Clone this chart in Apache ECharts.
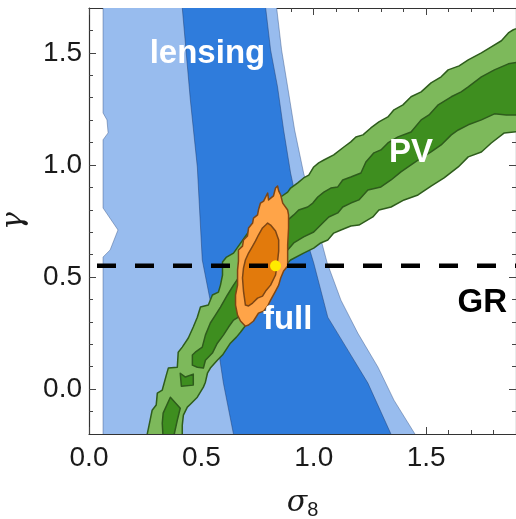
<!DOCTYPE html>
<html>
<head>
<meta charset="utf-8">
<script src="https://cdn.jsdelivr.net/npm/echarts@6/dist/echarts.min.js"></script>
<style>
  html, body { margin: 0; padding: 0; background: #ffffff; }
  #chart { width: 516px; height: 519px; }
</style>
</head>
<body>
<div id="chart"></div>
<script>
// Axis ticks (sigma_8 horizontally, gamma vertically)
const xMajor = [0, 0.5, 1.0, 1.5];
const xMinor = [0.1, 0.2, 0.3, 0.4, 0.6, 0.7, 0.8, 0.9, 1.1, 1.2, 1.3, 1.4, 1.6, 1.7, 1.8];
const yMajor = [0, 0.5, 1.0, 1.5];
const yMinor = [-0.1, 0.1, 0.2, 0.3, 0.4, 0.6, 0.7, 0.8, 0.9, 1.1, 1.2, 1.3, 1.4, 1.6];

// Lensing constraints: 95% and 68% regions as [sigma8, gamma] outlines
const lensing95 = [
  [0.0625, 1.72], [0.835, 1.72], [0.835, 1.701], [0.857, 1.513], [0.884, 1.348], [0.915, 1.156],
  [0.955, 0.964], [1.009, 0.754], [1.060, 0.5625], [1.121, 0.397], [1.196, 0.25],
  [1.286, 0.098], [1.357, -0.049], [1.451, -0.201], [1.46, -0.22], [0.0625, -0.22],
  [0.0625, 0.589], [0.094, 0.621], [0.129, 0.710], [0.0625, 0.808],
  [0.0625, 1.112], [0.085, 1.143], [0.080, 1.201], [0.0625, 1.232]
];
const lensing68 = [
  [0.415, 1.72], [0.786, 1.72], [0.786, 1.701], [0.808, 1.513], [0.839, 1.348], [0.866, 1.156],
  [0.897, 0.964], [0.942, 0.754], [1.0, 0.5625], [1.0625, 0.321], [1.152, 0.174],
  [1.241, 0.027], [1.344, -0.201], [1.35, -0.22], [0.645, -0.22], [0.643, -0.201],
  [0.598, 0.027], [0.554, 0.321], [0.504, 0.576], [0.482, 0.991], [0.451, 1.290], [0.415, 1.701]
];

// Peculiar-velocity constraints: 95% region
const pv95 = [
  [0.259, -0.22], [0.259, -0.201], [0.272, -0.138], [0.281, -0.094], [0.299, -0.071], [0.304, -0.018],
  [0.326, -0.004], [0.344, 0.0625], [0.353, 0.094], [0.393, 0.098], [0.397, 0.165],
  [0.415, 0.1875], [0.442, 0.228], [0.464, 0.277], [0.482, 0.321], [0.496, 0.366],
  [0.531, 0.375], [0.549, 0.420], [0.576, 0.433], [0.585, 0.464], [0.594, 0.509],
  [0.594, 0.567], [0.612, 0.589], [0.643, 0.607], [0.763, 0.777], [0.853, 0.857],
  [0.884, 0.879], [0.897, 0.897], [0.929, 0.920], [0.955, 0.942], [0.978, 0.955],
  [1.0, 0.991], [1.022, 1.009], [1.045, 1.022], [1.089, 1.045], [1.134, 1.080],
  [1.165, 1.103], [1.1875, 1.125], [1.219, 1.134], [1.254, 1.165], [1.290, 1.192],
  [1.330, 1.214], [1.357, 1.246], [1.397, 1.268], [1.433, 1.304], [1.478, 1.326],
  [1.522, 1.366], [1.567, 1.393], [1.598, 1.424], [1.647, 1.442], [1.6875, 1.469],
  [1.746, 1.5], [1.790, 1.527], [1.835, 1.554], [1.866, 1.589], [1.888, 1.603],
  [1.92, 1.615], [1.92, 1.15], [1.848, 1.143], [1.790, 1.098], [1.746, 1.058],
  [1.6875, 1.036], [1.643, 0.991], [1.580, 0.942], [1.522, 0.906], [1.464, 0.866],
  [1.402, 0.844], [1.344, 0.8125], [1.290, 0.799], [1.263, 0.768], [1.201, 0.732],
  [1.165, 0.728], [1.121, 0.710], [1.089, 0.696], [1.0625, 0.665], [1.031, 0.652],
  [1.0, 0.629], [0.955, 0.607], [0.897, 0.576], [0.866, 0.545], [0.844, 0.487],
  [0.817, 0.433], [0.720, 0.315], [0.674, 0.254], [0.656, 0.232], [0.629, 0.205],
  [0.594, 0.152], [0.571, 0.129], [0.540, 0.094], [0.527, 0.071], [0.518, 0.031],
  [0.509, 0.009], [0.482, -0.036], [0.451, -0.067], [0.4375, -0.080], [0.420, -0.116],
  [0.415, -0.161], [0.415, -0.22]
];

// Peculiar-velocity constraints: 68% regions (main band and two small islands)
const pv68 = [
  [0.460, 0.107], [0.460, 0.152], [0.473, 0.165], [0.504, 0.1875], [0.518, 0.241],
  [0.540, 0.295], [0.5625, 0.330], [0.585, 0.366], [0.616, 0.420], [0.643, 0.464],
  [0.763, 0.643], [0.884, 0.754], [0.911, 0.777], [0.933, 0.799], [0.973, 0.8125],
  [0.996, 0.830], [1.018, 0.857], [1.045, 0.879], [1.076, 0.897], [1.107, 0.902],
  [1.129, 0.933], [1.165, 0.946], [1.210, 0.964], [1.232, 1.013], [1.268, 1.054],
  [1.299, 1.067], [1.330, 1.098], [1.375, 1.125], [1.433, 1.147], [1.478, 1.201],
  [1.513, 1.223], [1.554, 1.268], [1.612, 1.304], [1.656, 1.326], [1.6875, 1.348],
  [1.746, 1.393], [1.804, 1.424], [1.866, 1.451], [1.92, 1.46], [1.92, 1.223],
  [1.857, 1.223], [1.804, 1.228], [1.746, 1.201], [1.6875, 1.179], [1.643, 1.156],
  [1.612, 1.134], [1.567, 1.089], [1.522, 1.058], [1.478, 1.031], [1.433, 1.0],
  [1.388, 0.969], [1.344, 0.933], [1.299, 0.902], [1.241, 0.888], [1.201, 0.844],
  [1.165, 0.830], [1.129, 0.8125], [1.107, 0.786], [1.067, 0.768], [1.031, 0.732],
  [1.0, 0.701], [0.955, 0.679], [0.911, 0.652], [0.884, 0.621], [0.772, 0.464],
  [0.696, 0.353], [0.665, 0.321], [0.643, 0.308], [0.621, 0.277], [0.598, 0.241],
  [0.571, 0.205], [0.549, 0.161], [0.518, 0.129], [0.509, 0.094], [0.482, 0.098]
];
const pv68b = [[0.406, 0.071], [0.429, 0.054], [0.464, 0.067], [0.464, 0.018], [0.411, 0.013]];
const pv68c = [[0.362, -0.036], [0.406, -0.085], [0.393, -0.138], [0.375, -0.22],
               [0.330, -0.22], [0.326, -0.152], [0.330, -0.107]];

// Combined ("full") constraints: 95% and 68% regions
const full95 = [
  [0.839, 0.906], [0.830, 0.897], [0.821, 0.862], [0.799, 0.844], [0.795, 0.875],
  [0.777, 0.839], [0.763, 0.830], [0.754, 0.799], [0.750, 0.777], [0.732, 0.763],
  [0.728, 0.741], [0.710, 0.719], [0.705, 0.683], [0.6875, 0.665], [0.683, 0.638],
  [0.665, 0.621], [0.665, 0.571], [0.661, 0.531], [0.661, 0.464], [0.652, 0.420],
  [0.652, 0.375], [0.661, 0.330], [0.674, 0.304], [0.696, 0.281], [0.710, 0.286],
  [0.732, 0.304], [0.754, 0.339], [0.777, 0.348], [0.795, 0.371], [0.808, 0.397],
  [0.830, 0.4375], [0.844, 0.464], [0.853, 0.496], [0.866, 0.527], [0.884, 0.549],
  [0.884, 0.598], [0.884, 0.643], [0.888, 0.719], [0.888, 0.777], [0.884, 0.799],
  [0.862, 0.830], [0.853, 0.866], [0.844, 0.884]
];
const full68 = [
  [0.795, 0.741], [0.808, 0.732], [0.830, 0.705], [0.844, 0.665], [0.844, 0.616],
  [0.839, 0.571], [0.830, 0.509], [0.808, 0.464], [0.786, 0.4375], [0.772, 0.415],
  [0.750, 0.406], [0.728, 0.384], [0.710, 0.371], [0.696, 0.375], [0.6875, 0.4375],
  [0.683, 0.496], [0.6875, 0.540], [0.696, 0.576], [0.710, 0.607], [0.728, 0.638],
  [0.741, 0.661], [0.754, 0.6875], [0.772, 0.719], [0.786, 0.732]
];

// General-relativity growth index and best-fit point
const gammaGR = 0.55;
const bestFit = [0.83, 0.55];

// Region labels
const labelNames = ['lensing', 'PV', 'full', 'GR'];
const labelAnchors = [[0.527, 1.496], [1.433, 1.054], [0.884, 0.308], [1.75, 0.384]];
const labelColors = ['#ffffff', '#ffffff', '#ffffff', '#000000'];

const X_MIN = 0, X_MAX = 1.9, Y_MIN = -0.2, Y_MAX = 1.7;

function regionSeries(points, fill, stroke, width) {
  return {
    type: 'custom',
    xAxisIndex: 0,
    yAxisIndex: 0,
    clip: true,
    silent: true,
    data: points,
    renderItem: function (params, api) {
      if (params.dataIndex !== 0) return null;
      return {
        type: 'polygon',
        shape: { points: points.map(function (p) { return api.coord(p); }) },
        style: { fill: fill, stroke: stroke, lineWidth: width, lineJoin: 'round' }
      };
    }
  };
}

const tickFont = { fontFamily: 'Liberation Sans, Arial, sans-serif', fontSize: 28, color: '#1a1a1a' };

function xAxis(position, values, len, withLabels, withLine) {
  return {
    type: 'value', position: position, min: X_MIN, max: X_MAX,
    splitLine: { show: false },
    axisLine: { show: withLine, onZero: false, lineStyle: { color: '#333', width: 1.2 } },
    axisTick: { show: true, inside: true, length: len, customValues: values,
                lineStyle: { color: '#444', width: 1 } },
    axisLabel: Object.assign({ show: withLabels, customValues: values, margin: 10,
                formatter: function (v) { return v.toFixed(1); } }, tickFont)
  };
}
function yAxis(position, values, len, withLabels, withLine) {
  return {
    type: 'value', position: position, min: Y_MIN, max: Y_MAX,
    splitLine: { show: false },
    axisLine: { show: withLine, onZero: false, lineStyle: { color: '#333', width: 1.2 } },
    axisTick: { show: true, inside: true, length: len, customValues: values,
                lineStyle: { color: '#444', width: 1 } },
    axisLabel: Object.assign({ show: withLabels, customValues: values, margin: 7,
                formatter: function (v) { return v.toFixed(1); } }, tickFont)
  };
}

const xAxes = [
  xAxis('bottom', xMajor, 7, true, true),
  xAxis('bottom', xMinor, 4, false, false),
  xAxis('top', xMajor, 7, false, true),
  xAxis('top', xMinor, 4, false, false)
];
Object.assign(xAxes[0], {
  name: '{s|σ}{n|8}', nameLocation: 'middle', nameGap: 52,
  nameTextStyle: { rich: {
    s: { fontFamily: 'DejaVu Serif, serif', fontStyle: 'italic', fontSize: 30, color: '#1a1a1a' },
    n: { fontFamily: 'Liberation Sans, Arial, sans-serif', fontSize: 20, color: '#1a1a1a', padding: [14, 0, 0, 0] }
  } }
});
const yAxes = [
  yAxis('left', yMajor, 7, true, true),
  yAxis('left', yMinor, 4, false, false),
  yAxis('right', yMajor, 7, false, true),
  yAxis('right', yMinor, 4, false, false)
];
Object.assign(yAxes[0], {
  name: 'γ', nameLocation: 'middle', nameGap: 60, nameRotate: 90,
  nameTextStyle: { fontFamily: 'DejaVu Serif, serif', fontStyle: 'italic', fontSize: 30, color: '#1a1a1a' }
});

const chart = echarts.init(document.getElementById('chart'), null, { renderer: 'canvas' });
chart.setOption({
  animation: false,
  backgroundColor: '#ffffff',
  grid: { left: 89, top: 8, right: 0, bottom: 85, containLabel: false, outerBoundsMode: 'none' },
  xAxis: xAxes,
  yAxis: yAxes,
  series: [
    regionSeries(lensing95, '#98BCEE', 'rgba(50,80,130,0.55)', 0.8),
    regionSeries(lensing68, '#2F7CDC', 'rgba(30,60,110,0.6)', 0.8),
    regionSeries(pv95, '#7DB95B', '#2E5C1C', 1.5),
    regionSeries(pv68, '#3E8E1F', '#2E5C1C', 1.5),
    regionSeries(pv68b, '#3E8E1F', '#2E5C1C', 1.5),
    regionSeries(pv68c, '#3E8E1F', '#2E5C1C', 1.5),
    regionSeries(full95, '#FFA448', '#7E4614', 1.5),
    regionSeries(full68, '#E27A0C', '#7E4614', 1.5),
    {
      type: 'line', xAxisIndex: 0, yAxisIndex: 0, silent: true, symbol: 'none',
      data: [[X_MIN, gammaGR], [X_MAX, gammaGR]],
      lineStyle: { color: '#000', width: 4.5, type: [19, 19], dashOffset: 30 }
    },
    {
      type: 'scatter', xAxisIndex: 0, yAxisIndex: 0, silent: true,
      data: [bestFit], symbolSize: 11,
      itemStyle: { color: '#FFEB00', borderWidth: 0, opacity: 1 }
    },
    {
      type: 'scatter', xAxisIndex: 0, yAxisIndex: 0, silent: true, symbolSize: 0,
      itemStyle: { opacity: 1 },
      data: labelNames.map(function (n, i) {
        return { name: n, value: labelAnchors[i], label: { color: labelColors[i] } };
      }),
      label: {
        show: true, position: 'inside',
        formatter: function (p) { return p.name; },
        fontFamily: 'Liberation Sans, Arial, sans-serif', fontWeight: 'bold', fontSize: 33
      },
      labelLayout: { hideOverlap: false }
    }
  ]
});
</script>
</body>
</html>
